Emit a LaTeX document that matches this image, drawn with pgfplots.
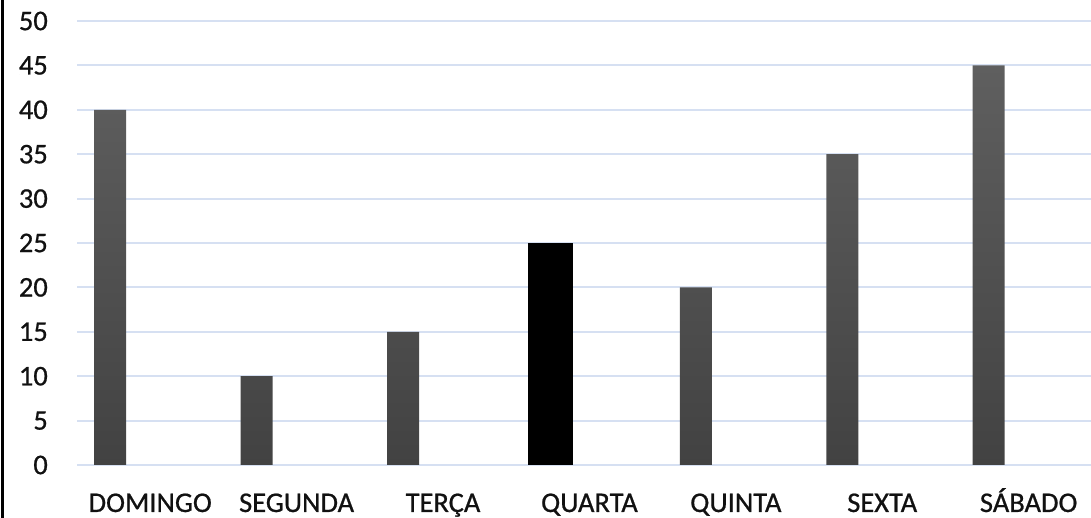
\documentclass[border=0pt]{standalone}
\usepackage{fontspec}
\setmainfont{Carlito}[FakeBold=0.7]
\usepackage{pgfplots}
\pgfplotsset{compat=1.18}
\definecolor{gridblue}{HTML}{D6E0F2}
\definecolor{bartop}{HTML}{5F5F5F}
\definecolor{barbot}{HTML}{424242}
\definecolor{labelgray}{HTML}{111111}

\begin{document}
\begin{tikzpicture}[x=1pt,y=1pt]
  \begin{axis}[
      at={(77pt,53pt)}, anchor=south west,
      scale only axis,
      width=1014pt, height=444pt,
      xmin=-0.5, xmax=6.426,
      ymin=0, ymax=50,
      axis line style={draw=none},
      major tick length=0pt,
      xtick={0,...,6},
      xticklabels={DOMINGO, SEGUNDA, TERÇA, QUARTA, QUINTA, SEXTA, SÁBADO},
      ytick={0,5,...,50},
      ymajorgrids=true,
      grid style={gridblue, line width=2pt},
      tick label style={font=\fontsize{28.5}{32}\selectfont, text=labelgray},
      /pgf/number format/assume math mode=true,
      yticklabel style={anchor=east, inner sep=0pt, xshift=-29pt},
      xticklabel style={anchor=base, inner sep=0pt, yshift=-47pt},
      clip=false,
    ]
    % dias comuns
    \addplot[ybar, bar width=32pt, bar shift=-40pt, draw=none,
             top color=bartop, bottom color=barbot] coordinates {
      (0, 40)
      (1, 10)
      (2, 15)
      (4, 20)
      (5, 35)
      (6, 45)
    };
    % quarta em destaque
    \addplot[ybar, bar width=45pt, bar shift=-38.5pt, draw=none, fill=black] coordinates {
      (3, 25)
    };
  \end{axis}
  \draw[black, line width=3pt] (2.5pt,0pt) -- (2.5pt,518pt);
  \pgfresetboundingbox
  \useasboundingbox (0pt,0pt) rectangle (1091pt,518pt);
\end{tikzpicture}
\end{document}
